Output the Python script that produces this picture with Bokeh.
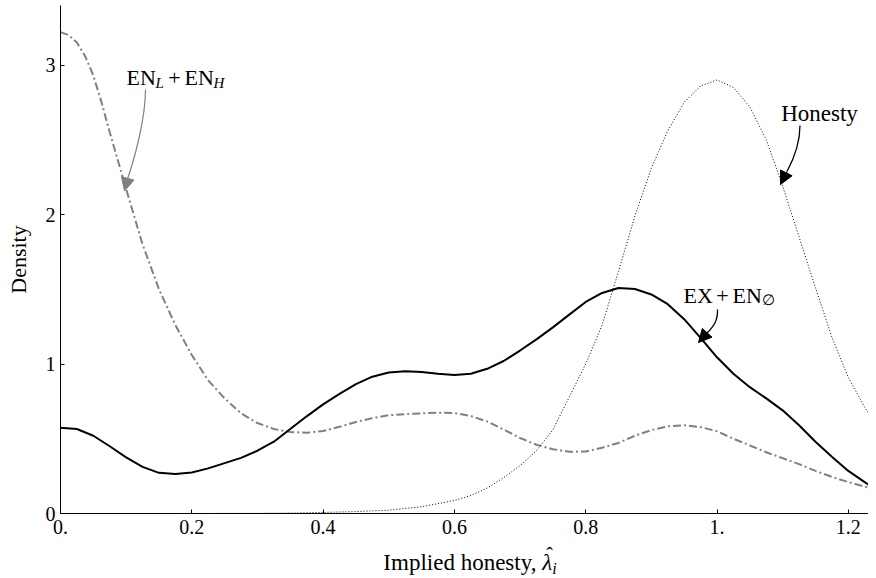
from bokeh.plotting import figure
from bokeh.layouts import column
from bokeh.models import Range1d, FixedTicker, Label, Arrow, NormalHead, Div
from bokeh.embed import file_html
from bokeh.resources import INLINE

# ---------------- data ----------------
grid_x = [0.0, 0.025, 0.05, 0.075, 0.1, 0.125, 0.15, 0.175, 0.2, 0.225,
          0.25, 0.275, 0.3, 0.325, 0.35, 0.375, 0.4, 0.425, 0.45, 0.475,
          0.5, 0.525, 0.55, 0.575, 0.6, 0.625, 0.65, 0.675, 0.7, 0.725,
          0.75, 0.775, 0.8, 0.825, 0.85, 0.875, 0.9, 0.925, 0.95, 0.975,
          1.0, 1.025, 1.05, 1.075, 1.1, 1.125, 1.15, 1.175, 1.2, 1.225, 1.245]

ex_en0_y = [0.573, 0.565, 0.52, 0.45, 0.375, 0.312, 0.272, 0.264, 0.274, 0.302,
            0.337, 0.372, 0.42, 0.48, 0.565, 0.65, 0.73, 0.80, 0.865, 0.915,
            0.943, 0.952, 0.946, 0.935, 0.927, 0.935, 0.968, 1.02, 1.09, 1.165,
            1.245, 1.33, 1.415, 1.475, 1.508, 1.502, 1.465, 1.40, 1.30, 1.175,
            1.045, 0.935, 0.845, 0.77, 0.69, 0.59, 0.48, 0.38, 0.285, 0.21, 0.15]

enl_enh_x = [0.0, 0.0125, 0.025, 0.0375, 0.05, 0.0625, 0.075, 0.1, 0.125, 0.15,
             0.175, 0.2, 0.225, 0.25, 0.275, 0.3, 0.325, 0.35, 0.375, 0.4,
             0.425, 0.45, 0.475, 0.5, 0.525, 0.55, 0.575, 0.6, 0.625, 0.65,
             0.675, 0.7, 0.725, 0.75, 0.775, 0.8, 0.825, 0.85, 0.875, 0.9,
             0.925, 0.95, 0.975, 1.0, 1.025, 1.05, 1.075, 1.1, 1.125, 1.15,
             1.175, 1.2, 1.225, 1.245]
enl_enh_y = [3.22, 3.20, 3.15, 3.06, 2.93, 2.75, 2.55, 2.17, 1.80, 1.50,
             1.26, 1.06, 0.89, 0.77, 0.67, 0.605, 0.565, 0.545, 0.54, 0.552,
             0.58, 0.612, 0.638, 0.657, 0.665, 0.67, 0.674, 0.672, 0.652, 0.615,
             0.562, 0.505, 0.46, 0.43, 0.413, 0.415, 0.44, 0.472, 0.52, 0.558,
             0.583, 0.59, 0.578, 0.55, 0.50, 0.455, 0.41, 0.37, 0.33, 0.285,
             0.245, 0.21, 0.18, 0.155]

honesty_x = [0.0, 0.1, 0.2, 0.3, 0.35, 0.4, 0.45, 0.5, 0.55, 0.6, 0.625, 0.65,
             0.675, 0.7, 0.725, 0.75, 0.775, 0.8, 0.825, 0.85, 0.875, 0.9,
             0.925, 0.95, 0.975, 1.0, 1.025, 1.05, 1.075, 1.1, 1.125, 1.15,
             1.175, 1.2, 1.225, 1.245]
honesty_y = [0.0, 0.0, 0.0, 0.001, 0.003, 0.007, 0.013, 0.022, 0.045, 0.087, 0.12, 0.17,
             0.24, 0.32, 0.42, 0.56, 0.78, 1.0, 1.26, 1.62, 1.99, 2.31,
             2.56, 2.75, 2.86, 2.90, 2.85, 2.72, 2.50, 2.19, 1.85, 1.51,
             1.18, 0.91, 0.71, 0.58]

x_ticks = [0, 0.2, 0.4, 0.6, 0.8, 1.0, 1.2]
x_tick_labels = ["0.", "0.2", "0.4", "0.6", "0.8", "1.", "1.2"]
y_ticks = [0, 1, 2, 3]
y_tick_labels = ["0", "1", "2", "3"]

# ---------------- layout ----------------
FONT = "Liberation Serif"
W = 868
LEFT, TOP, BOTTOM = 60, 5, 30
FRAME_H = 508
H_MAIN = TOP + FRAME_H + BOTTOM
H_LABEL = 570 - H_MAIN
SX, SY = 656.5, 149.5                      # px per data unit
X_END = (W - LEFT) / SX
Y_END = FRAME_H / SY

p = figure(width=W, height=H_MAIN, x_range=Range1d(0, X_END), y_range=Range1d(0, Y_END),
           output_backend="svg", toolbar_location=None,
           min_border_left=LEFT, min_border_right=0, min_border_top=TOP,
           min_border_bottom=BOTTOM)
p.xgrid.visible = False
p.ygrid.visible = False
p.outline_line_color = None

for ax in (p.xaxis[0], p.yaxis[0]):
    ax.major_tick_in = 4
    ax.major_tick_out = 0
    ax.minor_tick_in = 0
    ax.minor_tick_out = 0
    ax.axis_line_color = "black"
    ax.major_tick_line_color = "black"
    ax.major_label_text_font = FONT
    ax.major_label_text_font_size = "20px"
    ax.major_label_text_color = "black"

p.xaxis.ticker = FixedTicker(ticks=x_ticks)
p.xaxis.major_label_overrides = dict(zip(x_ticks, x_tick_labels))
p.xaxis.major_label_standoff = 6
p.yaxis.ticker = FixedTicker(ticks=y_ticks)
p.yaxis.major_label_overrides = dict(zip(y_ticks, y_tick_labels))
p.yaxis.major_label_standoff = 5
p.yaxis.axis_label = "Density"
p.yaxis.axis_label_text_font = FONT
p.yaxis.axis_label_text_font_size = "22px"
p.yaxis.axis_label_text_font_style = "normal"
p.yaxis.axis_label_text_color = "black"
p.yaxis.axis_label_standoff = 12

# ---------------- curves ----------------
p.line(enl_enh_x, enl_enh_y, line_color="#808080", line_width=2, line_dash="8 3 2 3")
p.line(honesty_x, honesty_y, line_color="black", line_width=1, line_dash="1 2")
p.line(grid_x, ex_en0_y, line_color="black", line_width=2)

# ---------------- annotation helpers (page pixel -> data) ----------------
FX0, FY0 = LEFT, TOP + FRAME_H


def dx(px):
    return (px - FX0) / SX


def dy(py):
    return (FY0 - py) / SY


def txt(px, py, s, size=22, style="normal", align="left", font=FONT):
    p.add_layout(Label(x=dx(px), y=dy(py), text=s, text_font=font,
                       text_font_size=f"{size}px", text_font_style=style,
                       text_align=align, text_baseline="alphabetic",
                       text_color="black"))


def curved_arrow(pts, color, width):
    (x0, y0), (c0x, c0y), (c1x, c1y), (x1, y1), (tx, ty) = pts
    p.bezier(x0=[dx(x0)], y0=[dy(y0)], x1=[dx(x1)], y1=[dy(y1)],
             cx0=[dx(c0x)], cy0=[dy(c0y)], cx1=[dx(c1x)], cy1=[dy(c1y)],
             line_color=color, line_width=width)
    p.add_layout(Arrow(end=NormalHead(size=13, fill_color=color, line_color=color,
                                      line_width=1),
                       x_start=dx(x1), y_start=dy(y1), x_end=dx(tx), y_end=dy(ty),
                       line_color=color, line_width=width))


# EN_L + EN_H
txt(126, 77, "EN")
txt(155, 82, "L", size=15, style="italic")
txt(174, 77, "+", align="center")
txt(184, 77, "EN")
txt(213, 82, "H", size=15, style="italic")
curved_arrow([(145, 89), (145, 118), (134, 158), (127.5, 177), (124, 190.5)], "#808080", 1.2)

# Honesty
txt(819, 113, "Honesty", size=23, align="center")
curved_arrow([(799.5, 125), (799.5, 142), (794, 157), (786.5, 171), (780, 184)], "black", 1.3)

# EX + EN_empty
txt(683, 295, "EX")
txt(722, 295, "+", align="center")
txt(732, 295, "EN")
txt(761, 299, "\u2205", size=15, font="DejaVu Serif")
curved_arrow([(717, 309), (717.5, 320), (713, 326), (706.5, 332.5), (698, 342)], "black", 1.3)

# ---------------- x-axis title (rich text with hat and subscript) ----------------
xlabel_html = (
    '<div style="position:relative; top:7px">'
    'Implied honesty, '
    '<span style="position:relative; display:inline-block">'
    '<i>&#955;</i>'
    '<span style="position:absolute; left:4px; top:-8px; font-size:20px">&#710;</span>'
    '</span>'
    '<sub style="font-size:16px; vertical-align:-4px"><i>i</i></sub>'
    '</div>'
)
xlabel = Div(text=xlabel_html, width=W - LEFT, height=H_LABEL, margin=(0, 0, 0, LEFT + 6),
             styles={"font-family": FONT, "font-size": "23px", "text-align": "center",
                     "color": "black", "line-height": "26px", "white-space": "nowrap",
                     "overflow": "visible"})

layout = column(p, xlabel, spacing=0)
open("out.html", "w").write(file_html(layout, INLINE))
